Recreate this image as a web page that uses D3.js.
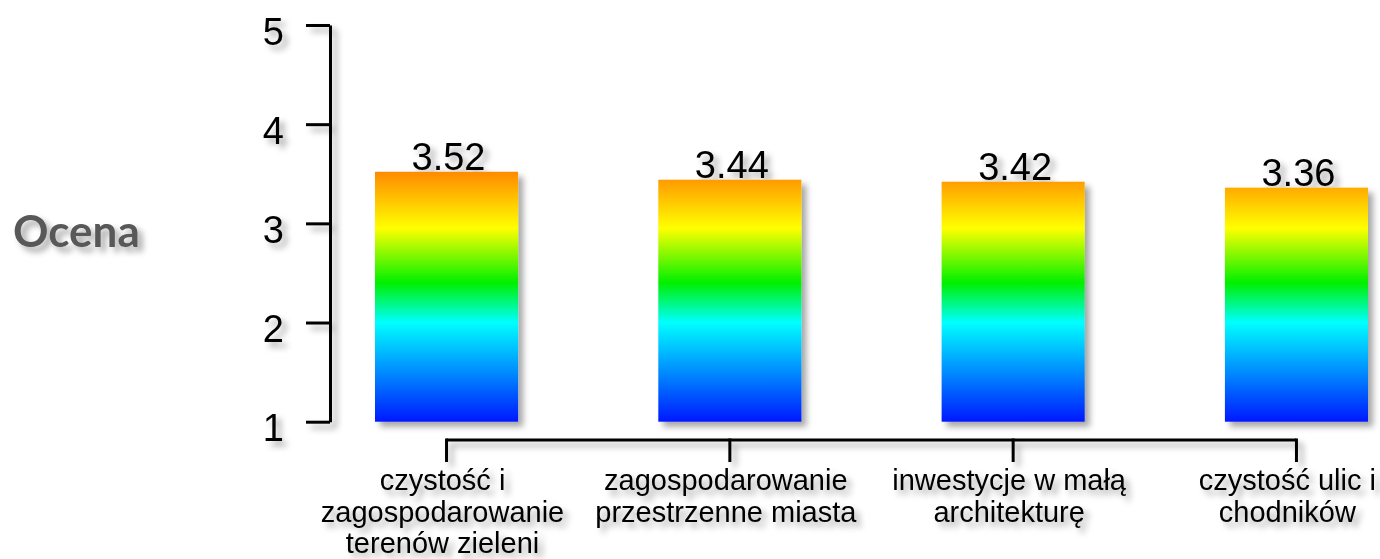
<!DOCTYPE html>
<html>
<head>
<meta charset="utf-8">
<script src="https://cdn.jsdelivr.net/npm/d3@7"></script>
<style>
  html, body { margin: 0; padding: 0; background: #fff; }
  svg { display: block; }
</style>
</head>
<body>
<svg id="chart" width="1380" height="559"></svg>
<script>
// ---- data ----
const categories = [
  ["czystość i", "zagospodarowanie", "terenów zieleni"],
  ["zagospodarowanie", "przestrzenne miasta"],
  ["inwestycje w małą", "architekturę"],
  ["czystość ulic i", "chodników"]
];
const values = [3.52, 3.44, 3.42, 3.36];
const yTicks = [1, 2, 3, 4, 5];
const yTitle = "Ocena";
// gradient stops expressed in value units (style)
const gradStops = [
  { v: 3.52, c: "#ff8a00" },
  { v: 2.95, c: "#ffff00" },
  { v: 2.40, c: "#00f000" },
  { v: 2.00, c: "#00ffff" },
  { v: 1.00, c: "#0018ff" }
];

const svg = d3.select("#chart");
const keys = categories.map((c, i) => "c" + i);

const y = d3.scaleLinear().domain([1, 5]).range([421.7, 25]);
const x = d3.scaleBand().domain(keys).range([375, 1368]).paddingInner(0.495).paddingOuter(0);
const cx = k => x(k) + x.bandwidth() / 2;

// defs: shadow + gradient
const defs = svg.append("defs");
const f = defs.append("filter").attr("id", "shadow")
  .attr("x", "-20%").attr("y", "-20%").attr("width", "150%").attr("height", "150%");
f.append("feDropShadow").attr("dx", 5).attr("dy", 5).attr("stdDeviation", 3)
  .attr("flood-color", "#000").attr("flood-opacity", 0.35);

const g0 = y(gradStops[0].v), g1 = y(gradStops[gradStops.length - 1].v);
const grad = defs.append("linearGradient").attr("id", "barGrad")
  .attr("gradientUnits", "userSpaceOnUse")
  .attr("x1", 0).attr("x2", 0).attr("y1", g0).attr("y2", g1);
grad.selectAll("stop").data(gradStops).join("stop")
  .attr("offset", d => (y(d.v) - g0) / (g1 - g0))
  .attr("stop-color", d => d.c);

const root = svg.append("g").attr("filter", "url(#shadow)");

// y axis
const yAxis = d3.axisLeft(y).tickValues(yTicks).tickFormat(d3.format("d"))
  .tickSize(24).tickSizeOuter(0).tickPadding(22);
const ya = root.append("g").attr("transform", "translate(330,0)").call(yAxis);
ya.select(".domain").attr("stroke", "#000").attr("stroke-width", 3);
ya.selectAll(".tick line").attr("stroke", "#000").attr("stroke-width", 3);
ya.selectAll(".tick text")
  .attr("font-family", "'Liberation Sans', Arial, sans-serif")
  .attr("font-size", 38).attr("fill", "#000").attr("dy", "0.5em");

// y title
root.append("text").attr("x", 13).attr("y", 247)
  .attr("font-family", "Lato, 'Open Sans', sans-serif").attr("font-weight", "bold")
  .attr("font-size", 44).attr("fill", "#595959").text(yTitle);

// bars
root.selectAll("rect.bar").data(values).join("rect").attr("class", "bar")
  .attr("x", (d, i) => x(keys[i]))
  .attr("width", x.bandwidth())
  .attr("y", d => y(d))
  .attr("height", d => y(1) - y(d))
  .attr("fill", "url(#barGrad)");

// value labels
root.selectAll("text.val").data(values).join("text").attr("class", "val")
  .attr("x", (d, i) => cx(keys[i]) + 2)
  .attr("y", d => y(d) - 2)
  .attr("text-anchor", "middle")
  .attr("font-family", "'Liberation Sans', Arial, sans-serif")
  .attr("font-size", 38).attr("fill", "#000")
  .text(d => d3.format(".2f")(d));

// x axis bracket
const xa = root.append("g").attr("transform", "translate(0,440)");
xa.append("path")
  .attr("d", `M${cx(keys[0])},0H${cx(keys[keys.length - 1])}`)
  .attr("stroke", "#000").attr("stroke-width", 3).attr("fill", "none");
xa.selectAll("line.tk").data(keys).join("line").attr("class", "tk")
  .attr("x1", d => cx(d)).attr("x2", d => cx(d))
  .attr("y1", -1.5).attr("y2", 22)
  .attr("stroke", "#000").attr("stroke-width", 3);

// category labels
const fontSize = 29;
const labels = root.selectAll("text.cat").data(categories).join("text").attr("class", "cat")
  .attr("text-anchor", "middle")
  .attr("font-family", "'Liberation Sans', Arial, sans-serif")
  .attr("font-size", fontSize).attr("fill", "#000");
labels.each(function(lines, i) {
  const t = d3.select(this);
  let c = cx(keys[i]) - 4;
  lines.forEach((ln, j) => {
    t.append("tspan").attr("x", c).attr("y", 490 + j * 31.5).text(ln);
  });
  const w = this.getBBox().width;
  if (c + w / 2 > 1376) c = 1376 - w / 2;
  t.selectAll("tspan").attr("x", c);
});
</script>
</body>
</html>
